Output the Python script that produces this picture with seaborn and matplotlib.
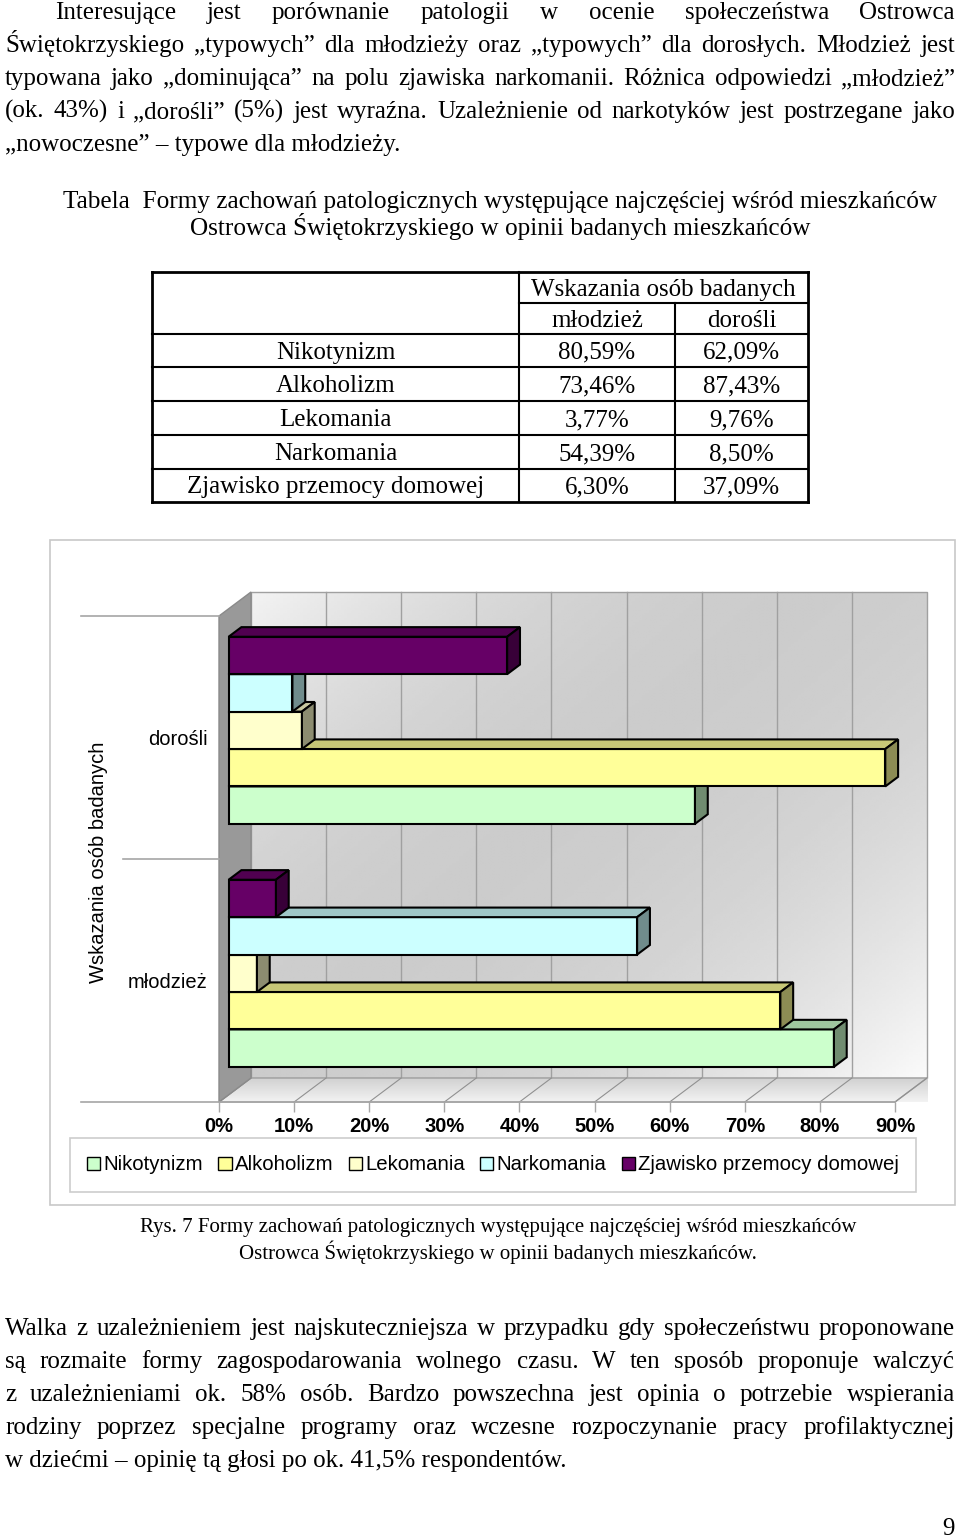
import numpy as np
import pandas as pd
import matplotlib
matplotlib.use('Agg')
import matplotlib.pyplot as plt
import matplotlib.transforms as mtransforms
from matplotlib.patches import Polygon, Rectangle, Patch
from matplotlib.lines import Line2D
import seaborn as sns

# Dane z tabeli / wykresu
series = ['Nikotynizm', 'Alkoholizm', 'Lekomania', 'Narkomania',
          'Zjawisko przemocy domowej']
groups = ['dorośli', 'młodzież']
mlodziez = [80.59, 73.46, 3.77, 54.39, 6.30]
dorosli = [62.09, 87.43, 9.76, 8.50, 37.09]
colors = ['#CCFFCC', '#FFFF99', '#FFFFCC', '#CCFFFF', '#660066']
tick_vals = [0, 10, 20, 30, 40, 50, 60, 70, 80, 90]
tick_labels = ['0%', '10%', '20%', '30%', '40%', '50%', '60%', '70%', '80%', '90%']

par1 = ['Interesujące jest porównanie patologii w ocenie społeczeństwa Ostrowca',
        'Świętokrzyskiego „typowych” dla młodzieży oraz „typowych” dla dorosłych. Młodzież jest',
        'typowana jako „dominująca” na polu zjawiska narkomanii. Różnica odpowiedzi „młodzież”',
        '(ok. 43%) i „dorośli” (5%) jest wyraźna. Uzależnienie od narkotyków jest postrzegane jako',
        '„nowoczesne” – typowe dla młodzieży.']
par2 = ['Walka z uzależnieniem jest najskuteczniejsza w przypadku gdy społeczeństwu proponowane',
        'są rozmaite formy zagospodarowania wolnego czasu. W ten sposób proponuje walczyć',
        'z uzależnieniami ok. 58% osób. Bardzo powszechna jest opinia o potrzebie wspierania',
        'rodziny poprzez specjalne programy oraz wczesne rozpoczynanie pracy profilaktycznej',
        'w dziećmi – opinię tą głosi po ok. 41,5% respondentów.']
title = ['Tabela  Formy zachowań patologicznych występujące najczęściej wśród mieszkańców',
         'Ostrowca Świętokrzyskiego w opinii badanych mieszkańców']
caption = ['Rys. 7 Formy zachowań patologicznych występujące najczęściej wśród mieszkańców',
           'Ostrowca Świętokrzyskiego w opinii badanych mieszkańców.']

W, H = 960, 1537
SERIF = 'Liberation Serif'
SANS = 'Liberation Sans'

plt.rcParams['font.family'] = SANS
fig = plt.figure(figsize=(W / 100, H / 100), dpi=100)
fig.patch.set_facecolor('white')
r = fig.canvas.get_renderer()


def px(x, y):
    return x / W, 1 - y / H


def line(x0, y0, x1, y1, lw=1.2, color='black'):
    fig.add_artist(Line2D([x0 / W, x1 / W], [1 - y0 / H, 1 - y1 / H],
                          transform=fig.transFigure, lw=lw, color=color,
                          solid_capstyle='projecting'))


def justified(text, x0, x1, yb, size=18, last=False):
    if last:
        fig.text(*px(x0, yb), text, fontsize=size, family=SERIF, va='baseline')
        return
    words = text.split(' ')
    arts = [fig.text(*px(0, yb), w, fontsize=size, family=SERIF, va='baseline')
            for w in words]
    widths = [a.get_window_extent(r).width for a in arts]
    gap = (x1 - x0 - sum(widths)) / (len(words) - 1)
    x = x0
    for a, w in zip(arts, widths):
        a.set_x(x / W)
        x += w + gap


# pierwszy akapit
for i, t in enumerate(par1):
    justified(t, 55 if i == 0 else 5, 955, 19 + 33 * i, last=(i == len(par1) - 1))

# tytuł tabeli
for i, t in enumerate(title):
    fig.text(*px(500, 208 + 27 * i), t, fontsize=18.2, family=SERIF,
             ha='center', va='baseline')

# tabela
tl, tr, tt, tb = 152, 808, 272, 502
c1, c2 = 519, 675
rows = [334, 367, 401, 435, 469]
for x0, y0, x1, y1 in [(tl, tt, tr, tt), (tl, tb, tr, tb), (tl, tt, tl, tb), (tr, tt, tr, tb)]:
    line(x0, y0, x1, y1, lw=2)
line(c1, tt, c1, tb, lw=1.5)
line(c2, 303, c2, tb, lw=1.5)
line(c1, 303, tr, 303, lw=1.5)
for y in rows:
    line(tl, y, tr, y, lw=1.5)
fig.text(*px((c1 + tr) / 2, 296), 'Wskazania osób badanych', fontsize=18,
         family=SERIF, ha='center', va='baseline')
fig.text(*px((c1 + c2) / 2, 327), 'młodzież', fontsize=18, family=SERIF,
         ha='center', va='baseline')
fig.text(*px((c2 + tr) / 2, 327), 'dorośli', fontsize=18, family=SERIF,
         ha='center', va='baseline')
row_top = [334] + rows[1:]
row_bot = rows[1:] + [tb]
for i, s in enumerate(series):
    yb = (row_top[i] + row_bot[i]) / 2 + 8
    fig.text(*px((tl + c1) / 2, yb), s, fontsize=18, family=SERIF, ha='center', va='baseline')
    fig.text(*px((c1 + c2) / 2, yb), f'{mlodziez[i]:.2f}%'.replace('.', ','),
             fontsize=18, family=SERIF, ha='center', va='baseline')
    fig.text(*px((c2 + tr) / 2, yb), f'{dorosli[i]:.2f}%'.replace('.', ','),
             fontsize=18, family=SERIF, ha='center', va='baseline')

# ramka wykresu
fig.add_artist(Rectangle(px(50, 1205), 905 / W, 665 / H, transform=fig.transFigure,
                         fc='white', ec='#C8C8C8', lw=1.2, zorder=0))

# wykres 3D (przednia płaszczyzna = osie)
ax_l, ax_r, ax_t, ax_b = 219, 895, 616, 1102
ax = fig.add_axes([ax_l / W, 1 - ax_b / H, (ax_r - ax_l) / W, (ax_b - ax_t) / H])
ax.patch.set_alpha(0)

df = pd.DataFrame({'grupa': ['młodzież'] * 5 + ['dorośli'] * 5,
                   'forma': series * 2,
                   'procent': mlodziez + dorosli})
sns.barplot(data=df, x='procent', y='grupa', hue='forma', order=groups,
            hue_order=series[::-1], palette=dict(zip(series, colors)),
            orient='h', width=0.77, saturation=1, edgecolor='black',
            linewidth=1.5, legend=False, ax=ax)

# głębokość w jednostkach danych
DX = 32 * 90 / (ax_r - ax_l)
DY = -24 * 2 / (ax_b - ax_t)

# tylna ściana z gradientem (jasny lewy górny i prawy dolny róg)
u = np.linspace(0, 1, 200)
uu, vv = np.meshgrid(u, u)
t = 0.55 * uu + 0.45 * vv
wall = np.where(t < 0.45, 0.80 + 0.75 * (0.45 - t) ** 2, 0.80 + 0.60 * (t - 0.45) ** 2)
ax.imshow(wall, cmap='gray', vmin=0, vmax=1, extent=(DX, 90 + DX, 1.5 + DY, -0.5 + DY),
          aspect='auto', interpolation='bilinear', zorder=0, clip_on=False)
ax.add_patch(Rectangle((DX, -0.5 + DY), 90, 2, fc='none', ec='#A0A0A0', lw=1,
                       zorder=1, clip_on=False))
for v in tick_vals[1:-1]:
    ax.plot([v + DX, v + DX], [-0.5 + DY, 1.5 + DY], color='#A0A0A0', lw=1,
            zorder=1, clip_on=False)

# podłoga
floor = Polygon([(0, 1.5), (90, 1.5), (90 + DX, 1.5 + DY), (DX, 1.5 + DY)],
                closed=True, fc='none', ec='#A0A0A0', lw=1, zorder=1.2, clip_on=False)
ax.add_patch(floor)
fgrad = np.tile(np.linspace(0.82, 0.95, 50)[:, None], (1, 50))
im = ax.imshow(fgrad, cmap='gray', vmin=0, vmax=1, extent=(0, 90 + DX, 1.5, 1.5 + DY),
               aspect='auto', interpolation='bilinear', zorder=1.1, clip_on=False)
im.set_clip_path(floor)
for v in tick_vals:
    ax.plot([v, v + DX], [1.5, 1.5 + DY], color='#909090', lw=0.8, zorder=1.3,
            clip_on=False)

# lewa ściana
ax.add_patch(Polygon([(0, -0.5), (DX, -0.5 + DY), (DX, 1.5 + DY), (0, 1.5)], closed=True,
                     fc='#999999', ec='#8A8A8A', lw=1, zorder=1.4, clip_on=False))

# linie podziału kategorii i znaczniki osi
bt = mtransforms.blended_transform_factory(ax.transAxes, ax.transData)
ax.plot([(81 - ax_l) / (ax_r - ax_l), 0], [-0.5, -0.5], color='#A6A6A6', lw=1.2,
        transform=bt, clip_on=False)
ax.plot([(123 - ax_l) / (ax_r - ax_l), 0], [0.5, 0.5], color='#A6A6A6', lw=1.2,
        transform=bt, clip_on=False)
ax.plot([(81 - ax_l) / (ax_r - ax_l), 1], [1.5, 1.5], color='#A6A6A6', lw=1.2,
        transform=bt, clip_on=False, zorder=1.5)

# słupki 3D: przesunięcie w głąb i ścianki
for p in list(ax.patches):
    if not isinstance(p, Rectangle) or p.get_height() > 1:
        continue
    if p.get_edgecolor()[:3] != (0, 0, 0):
        continue
    p.set_x(p.get_x() + 0.3 * DX)
    p.set_y(p.get_y() + 0.3 * DY)
    x0, y0, w, h = p.get_x(), p.get_y(), p.get_width(), p.get_height()
    x1 = x0 + w
    dx, dy = 0.4 * DX, 0.4 * DY
    z = 5 - y0
    p.set_zorder(z)
    p.set_clip_on(False)
    rgb = np.array(p.get_facecolor()[:3])
    ax.add_patch(Polygon([(x0, y0), (x1, y0), (x1 + dx, y0 + dy), (x0 + dx, y0 + dy)],
                         closed=True, fc=rgb * 0.78, ec='black', lw=1.5, zorder=z,
                         clip_on=False, joinstyle='miter'))
    ax.add_patch(Polygon([(x1, y0), (x1, y0 + h), (x1 + dx, y0 + h + dy), (x1 + dx, y0 + dy)],
                         closed=True, fc=rgb * 0.55, ec='black', lw=1.5, zorder=z,
                         clip_on=False, joinstyle='miter'))

ax.set_xlim(0, 90)
ax.set_ylim(1.5, -0.5)
ax.set_xticks(tick_vals)
ax.set_xticklabels(tick_labels, fontsize=14.5, fontweight='bold')
ax.tick_params(axis='x', length=7, width=1, color='#A6A6A6', pad=4, direction='out')
ax.tick_params(axis='y', length=0, pad=8, labelsize=14.5)
ax.set_xlabel('')
ax.set_ylabel('')
for s in ax.spines.values():
    s.set_visible(False)
fig.text(*px(98, 862), 'Wskazania osób badanych', fontsize=14.5, rotation=90,
         ha='center', va='center')

# legenda
handles = [Patch(fc=c, ec='black', lw=1) for c in colors]
leg = fig.legend(handles, series, ncol=5, loc='center', bbox_to_anchor=px(493, 1165),
                 fontsize=14.7, frameon=True, fancybox=False, borderpad=0.85,
                 handlelength=0.65, handleheight=0.65, handletextpad=0.15,
                 columnspacing=0.75)
leg.get_frame().set_edgecolor('#C0C0C0')
leg.get_frame().set_linewidth(1.2)

# podpis
for i, t in enumerate(caption):
    fig.text(*px(498, 1232 + 27 * i), t, fontsize=15, family=SERIF,
             ha='center', va='baseline')

# drugi akapit
for i, t in enumerate(par2):
    justified(t, 5, 955, 1335 + 33 * i, last=(i == len(par2) - 1))

fig.text(*px(955, 1535), '9', fontsize=18, family=SERIF, ha='right', va='baseline')

fig.savefig('out.png', dpi=100)
